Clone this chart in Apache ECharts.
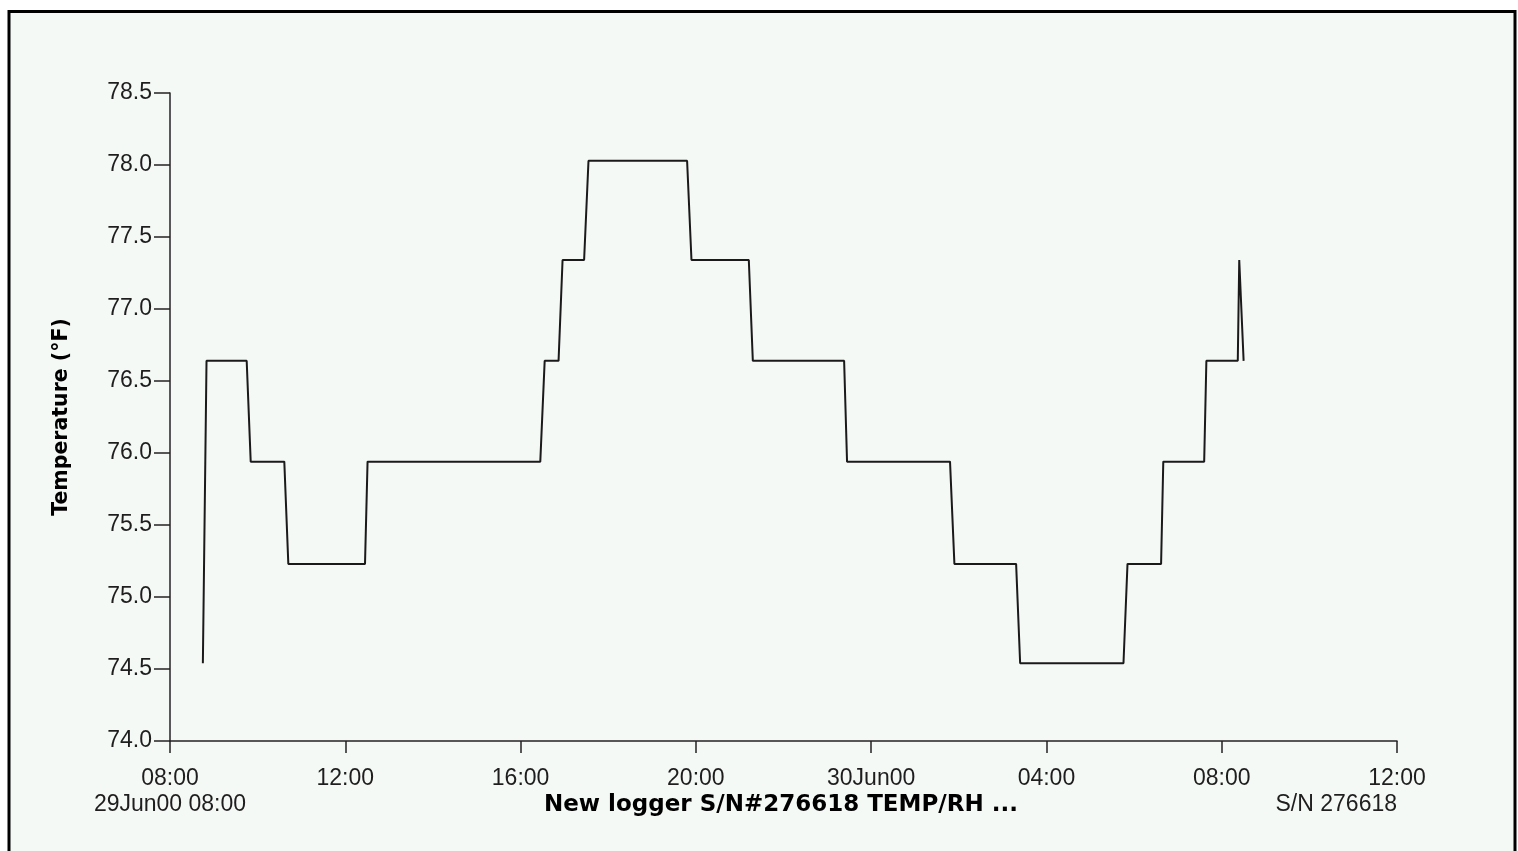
<!DOCTYPE html>
<html>
<head>
<meta charset="utf-8">
<script src="https://cdn.jsdelivr.net/npm/echarts@6/dist/echarts.min.js"></script>
<style>
html,body{margin:0;padding:0;background:#ffffff;}
#chart{width:1518px;height:851px;}
</style>
</head>
<body>
<div id="chart"></div>
<script>
// Elapsed minutes since 29Jun00 08:00 (change points of the logged series)
const elapsedMin = [45, 50, 105, 110.5, 156.5, 162, 267, 270.5, 507, 513, 532, 537.5, 567, 573, 708, 714, 792.5, 798, 923, 927, 1068, 1074, 1158.5, 1164, 1305.5, 1311, 1357, 1360, 1416, 1419, 1462, 1464, 1470];
// Temperature (°F)
const tempF = [74.54, 76.64, 76.64, 75.94, 75.94, 75.23, 75.23, 75.94, 75.94, 76.64, 76.64, 77.34, 77.34, 78.03, 78.03, 77.34, 77.34, 76.64, 76.64, 75.94, 75.94, 75.23, 75.23, 74.54, 74.54, 75.23, 75.23, 75.94, 75.94, 76.64, 76.64, 77.34, 76.64];
const xTickLabels = ['08:00', '12:00', '16:00', '20:00', '30Jun00', '04:00', '08:00', '12:00'];
const yAxisName = 'Temperature (°F)';
const startLabel = '29Jun00 08:00';
const titleLabel = 'New logger S/N#276618 TEMP/RH ...';
const serialLabel = 'S/N 276618';

const chart = echarts.init(document.getElementById('chart'), null, {renderer: 'canvas'});
const font = '"Liberation Sans", Arial, sans-serif';
const boldFont = '"DejaVu Sans", "Liberation Sans", sans-serif';
const txt = '#1e1e1e';
const axisCol = '#222222';

chart.setOption({
  animation: false,
  backgroundColor: '#ffffff',
  graphic: [
    {type: 'rect', shape: {x: 9, y: 11.5, width: 1506, height: 900},
     style: {fill: '#f5f9f6', stroke: '#000000', lineWidth: 3}, z: -10, silent: true},
    {type: 'text', x: 170, y: 805,
     style: {text: startLabel, font: '23px ' + font, fill: txt, textAlign: 'center', textVerticalAlign: 'middle'}},
    {type: 'text', x: 544, y: 805,
     style: {text: titleLabel, font: 'bold 23px ' + boldFont, fill: '#000', textAlign: 'left', textVerticalAlign: 'middle'}},
    {type: 'text', x: 1397, y: 805,
     style: {text: serialLabel, font: '23px ' + font, fill: txt, textAlign: 'right', textVerticalAlign: 'middle'}}
  ],
  grid: {left: 170, right: 121, top: 93, bottom: 110, containLabel: false},
  xAxis: {
    type: 'value', min: 0, max: 28 * 60, interval: 240,
    axisLine: {lineStyle: {color: axisCol, width: 1.5}},
    axisTick: {length: 12, lineStyle: {color: axisCol, width: 1.5}},
    axisLabel: {color: txt, fontFamily: font, fontSize: 23, margin: 26,
      formatter: function (v) { return xTickLabels[Math.round(v / 240)]; }},
    splitLine: {show: false}
  },
  yAxis: {
    type: 'value', min: 74, max: 78.5, interval: 0.5,
    name: yAxisName, nameLocation: 'middle', nameGap: 98,
    nameTextStyle: {color: '#000', fontFamily: boldFont, fontSize: 20.5, fontWeight: 'bold'},
    axisLine: {show: true, lineStyle: {color: axisCol, width: 1.5}},
    axisTick: {show: true, length: 16, lineStyle: {color: axisCol, width: 1.5}},
    axisLabel: {color: txt, fontFamily: font, fontSize: 23, margin: 18,
      formatter: function (v) { return v.toFixed(1); }},
    splitLine: {show: false}
  },
  series: [{
    type: 'line', showSymbol: false,
    data: elapsedMin.map((t, i) => [t, tempF[i]]),
    lineStyle: {color: '#1a1a1a', width: 2},
    silent: true
  }]
});
</script>
</body>
</html>
